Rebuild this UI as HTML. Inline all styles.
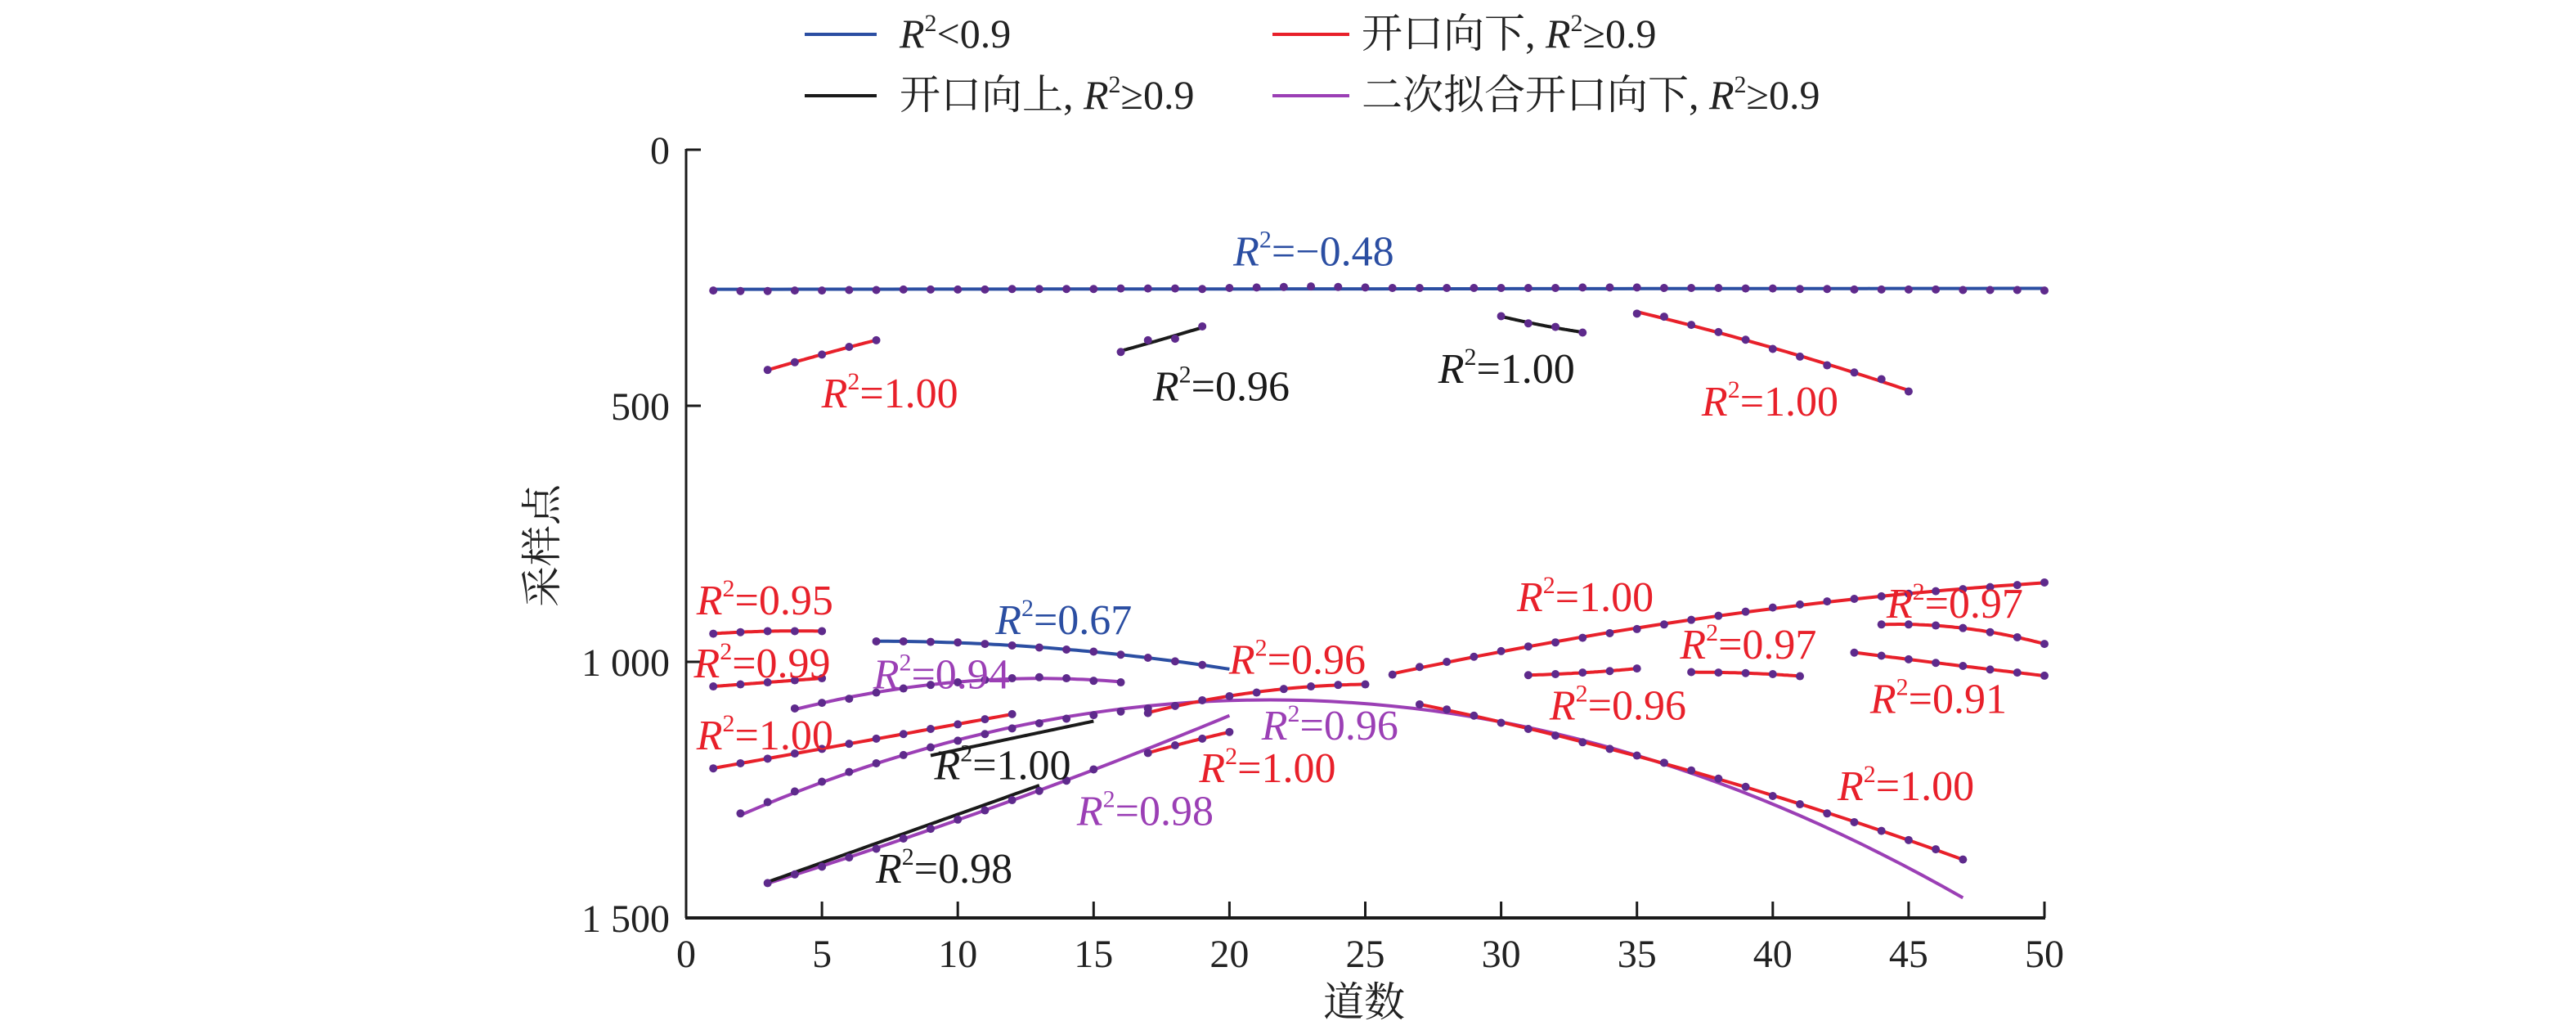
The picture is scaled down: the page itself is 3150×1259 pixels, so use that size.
<!DOCTYPE html>
<html><head><meta charset="utf-8">
<style>
html,body{margin:0;padding:0;background:#fff;}
svg{display:block;font-family:"Liberation Serif","Noto Serif CJK SC","Noto Sans CJK SC",serif;}
</style></head>
<body>
<svg id="chart" width="3150" height="1259" viewBox="0 0 3150 1259" xmlns="http://www.w3.org/2000/svg">
<g id="legend">
  <g>
    <line x1="984" y1="42" x2="1072" y2="42" stroke="#2b4ea2" stroke-width="4"/>
    <text x="1100" y="58" font-size="50" fill="#222"><tspan font-style="italic">R</tspan><tspan font-size="30" dy="-20">2</tspan><tspan dy="20">&lt;0.9</tspan></text>
  </g>
  <g>
    <line x1="1556" y1="42" x2="1650" y2="42" stroke="#e8202a" stroke-width="4"/>
    <text x="1665" y="58" font-size="50" fill="#222">开口向下, <tspan font-style="italic">R</tspan><tspan font-size="30" dy="-20">2</tspan><tspan dy="20">≥0.9</tspan></text>
  </g>
  <g>
    <line x1="984" y1="117" x2="1072" y2="117" stroke="#1a1a1a" stroke-width="4"/>
    <text x="1100" y="133" font-size="50" fill="#222">开口向上, <tspan font-style="italic">R</tspan><tspan font-size="30" dy="-20">2</tspan><tspan dy="20">≥0.9</tspan></text>
  </g>
  <g>
    <line x1="1556" y1="117" x2="1650" y2="117" stroke="#9b3fb5" stroke-width="4"/>
    <text x="1665" y="133" font-size="50" fill="#222">二次拟合开口向下, <tspan font-style="italic">R</tspan><tspan font-size="30" dy="-20">2</tspan><tspan dy="20">≥0.9</tspan></text>
  </g>
</g>
<g id="axes"></g>
<g id="fits"></g>
<g id="dots"></g>
<g id="labels"></g>
<text x="1668" y="1242" font-size="50" text-anchor="middle" fill="#222">道数</text>
<text transform="translate(680,667) rotate(-90)" font-size="50" text-anchor="middle" fill="#222">采样点</text>
</svg>
<script>
const xTicks=[0,5,10,15,20,25,30,35,40,45,50];
const yTicks=[0,500,1000,1500];
const yTickLabels=["0","500","1 000","1 500"];

const seriesNames=["top-blue","red-a","black-a","black-b","red-b","red-095","red-099","blue-067","purple-094","red-left-100","black-100","purple-big","red-right-low","red-096-mid","red-100-mid","purple-098","black-098","red-upper-right","red-096-right","red-097-a","red-097-b","red-091"];
const seriesColors=["#2b4ea2","#e8202a","#1a1a1a","#1a1a1a","#e8202a","#e8202a","#e8202a","#2b4ea2","#9b3fb5","#e8202a","#1a1a1a","#9b3fb5","#e8202a","#e8202a","#e8202a","#9b3fb5","#1a1a1a","#e8202a","#e8202a","#e8202a","#e8202a","#e8202a"];
const seriesDegree=[1,2,2,2,2,2,2,2,2,2,1,2,2,2,2,2,1,2,2,2,2,2];
const seriesStart=[1,3,16,30,35,1,1,7,4,1,9,2,27,17,17,3,3,26,31,37,44,43];
const seriesFitEnd=[50,7,19,33,45,5,5,20,16,12,15,47,47,25,20,20,13,50,35,41,50,50];
const seriesDotEnd=[50,7,19,33,45,5,5,19,16,12,0,17,47,25,20,15,0,50,35,41,50,50];
const seriesValues=[
 [275,276,276,275,275,274,274,273,273,273,273,272,272,272,272,271,271,271,272,270,269,268,267,268,269,270,270,270,270,270,270,270,269,269,269,270,270,270,271,271,272,272,273,273,273,273,274,274,274,275],
 [430,415,400,385,372],
 [395,372,369,345],
 [325,339,346,357],
 [320,326,342,356,371,389,404,421,435,448,472],
 [945,942,940,940,940],
 [1048,1044,1040,1036,1032],
 [960,960,961,962,965,968,972,976,980,986,992,999,1006],
 [1091,1080,1072,1060,1052,1045,1040,1035,1032,1030,1032,1037,1040],
 [1208,1198,1189,1179,1170,1160,1150,1141,1131,1122,1112,1102],
 [1183,1172,1160,1150,1138,1127,1116],
 [1296,1274,1253,1234,1215,1198,1182,1167,1154,1141,1130,1120,1111,1104,1097,1091,null,null,null,null,null,null,null,null,null,1090,1097,1105,1114,1125,1137,1150,1165,1181,1198,1216,1236,1257,1279,1302,1326,1351,1377,1404,1432],
 [1083,1093,1105,1119,1131,1144,1157,1170,1183,1197,1212,1228,1244,1262,1278,1296,1313,1330,1348,1366,1386],
 [1100,1086,1075,1067,1060,1053,1048,1045,1044],
 [1178,1163,1150,1137],
 [1432,1415,1400,1382,1365,1345,1326,1308,1290,1270,1252,1232,1210],
 [1430,1411,1392,1373,1354,1336,1317,1298,1279,1260,1241],
 [1025,1010,1000,990,979,970,962,953,944,936,927,918,910,902,894,888,882,877,872,867,862,858,854,850,845],
 [1026,1024,1021,1018,1013],
 [1020,1021,1022,1024,1028],
 [927,927,929,934,942,952,965],
 [982,988,995,1002,1008,1015,1021,1027]
];
const labelTexts=["−0.48","1.00","0.96","1.00","1.00","0.95","0.99","0.67","0.94","1.00","1.00","0.96","1.00","0.96","1.00","0.98","0.98","1.00","0.96","0.97","0.97","0.91"];
const labelX=[23.1,7.5,19.7,30.2,39.9,2.9,2.8,13.9,9.4,2.9,11.65,23.7,44.9,22.5,21.4,16.9,9.5,33.1,34.3,39.1,46.7,46.1];
const labelY=[226,503,490,455,519,907,1030,946,1052,1171,1229,1152,1270,1023,1235,1319,1431,901,1113,994,914,1100];
const labelColors=["#2b4ea2","#e8202a","#1a1a1a","#1a1a1a","#e8202a","#e8202a","#e8202a","#2b4ea2","#9b3fb5","#e8202a","#1a1a1a","#9b3fb5","#e8202a","#e8202a","#e8202a","#9b3fb5","#1a1a1a","#e8202a","#e8202a","#e8202a","#e8202a","#e8202a"];

const NS="http://www.w3.org/2000/svg";
const X0=839,X1=2500,Y0=183,Y1=1122;
const xScale=v=>X0+(v-0)/(50-0)*(X1-X0);
const yScale=v=>Y0+(v-0)/(1500-0)*(Y1-Y0);
function mk(tag,attrs,parent){const e=document.createElementNS(NS,tag);for(const k in attrs)e.setAttribute(k,attrs[k]);parent.appendChild(e);return e;}

const axes=document.getElementById('axes');
let el=mk('line',{x1:X0,y1:Y0-1,x2:X0,y2:Y1,stroke:'#1a1a1a','stroke-width':3},axes);


el=mk('line',{x1:X0-1,y1:Y1,x2:X1+1,y2:Y1,stroke:'#1a1a1a','stroke-width':4},axes);


xTicks.forEach(t=>{
  const x=xScale(t);
  if(t>0){const tk=mk('line',{x1:x,y1:Y1,x2:x,y2:Y1-20,stroke:'#1a1a1a','stroke-width':3},axes);
  
  }
  const tx=mk('text',{x:x,y:Y1+60,'font-size':48,'text-anchor':'middle',fill:'#222'},axes);
  tx.textContent=String(t);
  
  
});
yTicks.forEach((t,i)=>{
  const y=yScale(t);
  const tk=mk('line',{x1:X0,y1:y,x2:X0+18,y2:y,stroke:'#1a1a1a','stroke-width':3},axes);
  
  
  const tx=mk('text',{x:X0-20,y:y+17,'font-size':48,'text-anchor':'end',fill:'#222'},axes);
  tx.textContent=yTickLabels[i];
  
  
});

function polyfit(xs,ys,deg){
  const n=deg+1;const A=[];for(let i=0;i<n;i++){A.push(new Array(n+1).fill(0));}
  const m=xs.reduce((a,b)=>a+b,0)/xs.length;
  xs.forEach((x0,k)=>{const x=x0-m;for(let i=0;i<n;i++){for(let j=0;j<n;j++)A[i][j]+=Math.pow(x,i+j);A[i][n]+=ys[k]*Math.pow(x,i);}});
  for(let i=0;i<n;i++){let p=i;for(let r=i+1;r<n;r++)if(Math.abs(A[r][i])>Math.abs(A[p][i]))p=r;[A[i],A[p]]=[A[p],A[i]];
    for(let r=0;r<n;r++){if(r===i)continue;const f=A[r][i]/A[i][i];for(let c=i;c<=n;c++)A[r][c]-=f*A[i][c];}}
  const co=A.map((row,i)=>row[n]/row[i]);
  return x=>co.reduce((s,c,i)=>s+c*Math.pow(x-m,i),0);
}

const fits=document.getElementById('fits'),dots=document.getElementById('dots');
seriesValues.forEach((vals,si)=>{
  const xs=[],ys=[];
  vals.forEach((v,i)=>{if(v!==null){xs.push(seriesStart[si]+i);ys.push(v);}});
  const f=polyfit(xs,ys,seriesDegree[si]);
  const a=seriesStart[si],b=seriesFitEnd[si];
  const pts=[];for(let k=0;k<=60;k++){const x=a+(b-a)*k/60;pts.push(xScale(x).toFixed(1)+','+yScale(f(x)).toFixed(1));}
  const pl=mk('polyline',{points:pts.join(' '),fill:'none',stroke:seriesColors[si],'stroke-width':4},fits);
  
  
  xs.forEach((x,k)=>{
    if(x>seriesDotEnd[si])return;
    const c=mk('circle',{cx:xScale(x),cy:yScale(ys[k]),r:5,fill:'#5e2a8c'},dots);
    
    
  });
});

const labels=document.getElementById('labels');
labelTexts.forEach((t,i)=>{
  const tx=mk('text',{x:xScale(labelX[i]),y:yScale(labelY[i]),'font-size':52,'text-anchor':'middle',fill:labelColors[i]},labels);
  
  
  const r=mk('tspan',{'font-style':'italic'},tx);r.textContent='R';
  const s=mk('tspan',{'font-size':30,dy:-22},tx);s.textContent='2';
  const v=mk('tspan',{dy:22},tx);v.textContent='='+t;
});
</script>
</body></html>
